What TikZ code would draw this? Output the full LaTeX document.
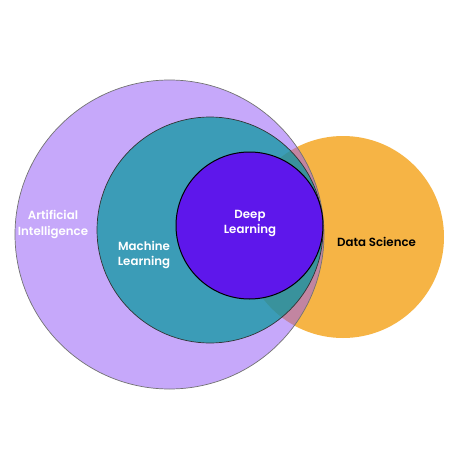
\documentclass[tikz,border=0pt]{standalone}
\usepackage{fontspec}
\setmainfont{Poppins}[UprightFont={* Medium}, BoldFont={* SemiBold}]
\definecolor{dsorange}{RGB}{246,180,69}
\definecolor{aipurple}{RGB}{147,90,247}
\definecolor{mlteal}{RGB}{0,152,155}
\definecolor{dlviolet}{RGB}{94,23,235}
\tikzset{
  venn/.style={circle, inner sep=0pt, minimum size=#1},
  lbl/.style={font=\fontsize{11.8}{15.8}\selectfont\bfseries, align=center, text=white},
}
\begin{document}
\begin{tikzpicture}[x=1pt,y=-1pt]
\useasboundingbox (0,0) rectangle (458,471);
\fill[white] (0,0) rectangle (458,471);
\node[venn=202pt, fill=dsorange] (ds) at (343,237) {};
\node[venn=309pt, fill=aipurple, fill opacity=0.52, draw=black!55, line width=0.7pt] (ai) at (169.5,234.5) {};
\node[venn=226pt, fill=mlteal, fill opacity=0.7, draw=black!80, line width=0.7pt] (ml) at (210,230) {};
\node[venn=147pt, fill=dlviolet, draw=black, line width=1pt] (dl) at (249.5,225.5) {};
\node[lbl] (ait) at (53,224.5) {Artificial\\Intelligence};
\node[lbl] (mlt) at (144,255) {Machine\\Learning};
\node[lbl] (dlt) at (250,223.5) {Deep\\Learning};
\node[lbl, text=black] (dst) at (376.5,242) {Data Science};
\end{tikzpicture}
\end{document}
